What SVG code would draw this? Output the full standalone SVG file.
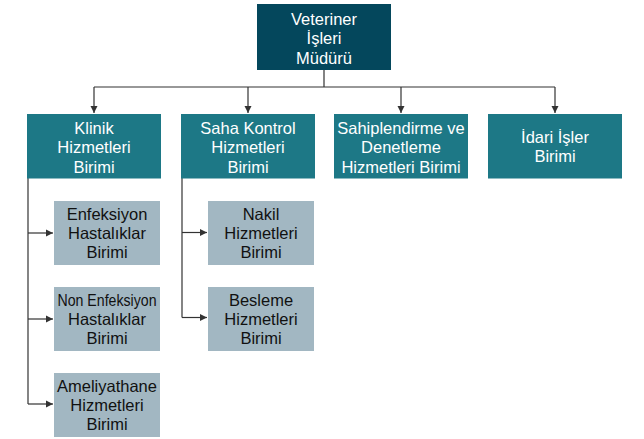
<svg xmlns="http://www.w3.org/2000/svg" width="644" height="439" viewBox="0 0 644 439">
<defs>
<marker id="arr" markerWidth="8" markerHeight="8" refX="7" refY="4" orient="auto" markerUnits="userSpaceOnUse">
<path d="M0,0.5 L7,4 L0,7.5 Z" fill="#333333"/>
</marker>
<style>
.top{fill:#04475C}
.l1{fill:#1D7886}
.l2{fill:#A2B7C2}
text{font-family:"Liberation Sans",Arial,sans-serif;font-size:16.5px;text-anchor:middle}
.w{fill:#ffffff}
.b{fill:#111111}
.c{fill:none;stroke:#333333;stroke-width:1.2}
</style>
</defs>
<rect width="644" height="439" fill="#ffffff"/>
<g id="connectors">
<path class="c" d="M324,70 V87 M94,87 H555"/>
<path class="c" d="M94,87 V113" marker-end="url(#arr)"/>
<path class="c" d="M248,87 V113" marker-end="url(#arr)"/>
<path class="c" d="M401,87 V113" marker-end="url(#arr)"/>
<path class="c" d="M555,87 V113" marker-end="url(#arr)"/>
<path class="c" d="M28,178 V404"/>
<path class="c" d="M28,233 H53" marker-end="url(#arr)"/>
<path class="c" d="M28,319 H53" marker-end="url(#arr)"/>
<path class="c" d="M28,404 H53" marker-end="url(#arr)"/>
<path class="c" d="M182,178 V317.5"/>
<path class="c" d="M182,232.5 H207" marker-end="url(#arr)"/>
<path class="c" d="M182,317.5 H207" marker-end="url(#arr)"/>
</g>
<g id="mudur">
<rect class="top" x="257" y="4" width="134" height="66"/>
<text class="w" x="324" y="24.5">Veteriner</text>
<text class="w" x="324" y="44">İşleri</text>
<text class="w" x="324" y="63.5">Müdürü</text>
</g>
<g id="klinik">
<rect class="l1" x="27" y="114" width="134" height="64.5"/>
<text class="w" x="94" y="133.5">Klinik</text>
<text class="w" x="94" y="153">Hizmetleri</text>
<text class="w" x="94" y="172.5">Birimi</text>
</g>
<g id="saha">
<rect class="l1" x="181" y="114" width="134" height="64.5"/>
<text class="w" x="248" y="133.5">Saha Kontrol</text>
<text class="w" x="248" y="153">Hizmetleri</text>
<text class="w" x="248" y="172.5">Birimi</text>
</g>
<g id="sahiplendirme">
<rect class="l1" x="334" y="114" width="134" height="64.5"/>
<text class="w" x="401" y="133.5">Sahiplendirme ve</text>
<text class="w" x="401" y="153">Denetleme</text>
<text class="w" x="401" y="172.5">Hizmetleri Birimi</text>
</g>
<g id="idari">
<rect class="l1" x="488" y="114" width="134" height="64.5"/>
<text class="w" x="555" y="143.3">İdari İşler</text>
<text class="w" x="555" y="162">Birimi</text>
</g>
<g id="enfeksiyon">
<rect class="l2" x="54" y="201" width="106" height="64"/>
<text class="b" x="107" y="219.5">Enfeksiyon</text>
<text class="b" x="107" y="239.3">Hastalıklar</text>
<text class="b" x="107" y="258">Birimi</text>
</g>
<g id="nonenfeksiyon">
<rect class="l2" x="54" y="287" width="106" height="64"/>
<text class="b" x="107" y="305.5" textLength="99" lengthAdjust="spacingAndGlyphs">Non Enfeksiyon</text>
<text class="b" x="107" y="325.3">Hastalıklar</text>
<text class="b" x="107" y="344">Birimi</text>
</g>
<g id="ameliyathane">
<rect class="l2" x="54" y="373" width="106" height="64"/>
<text class="b" x="107" y="391.5">Ameliyathane</text>
<text class="b" x="107" y="411.3">Hizmetleri</text>
<text class="b" x="107" y="430">Birimi</text>
</g>
<g id="nakil">
<rect class="l2" x="208" y="201" width="106" height="64"/>
<text class="b" x="261" y="219.5">Nakil</text>
<text class="b" x="261" y="239.3">Hizmetleri</text>
<text class="b" x="261" y="258">Birimi</text>
</g>
<g id="besleme">
<rect class="l2" x="208" y="287" width="106" height="64"/>
<text class="b" x="261" y="305.5">Besleme</text>
<text class="b" x="261" y="325.3">Hizmetleri</text>
<text class="b" x="261" y="344">Birimi</text>
</g>
</svg>
